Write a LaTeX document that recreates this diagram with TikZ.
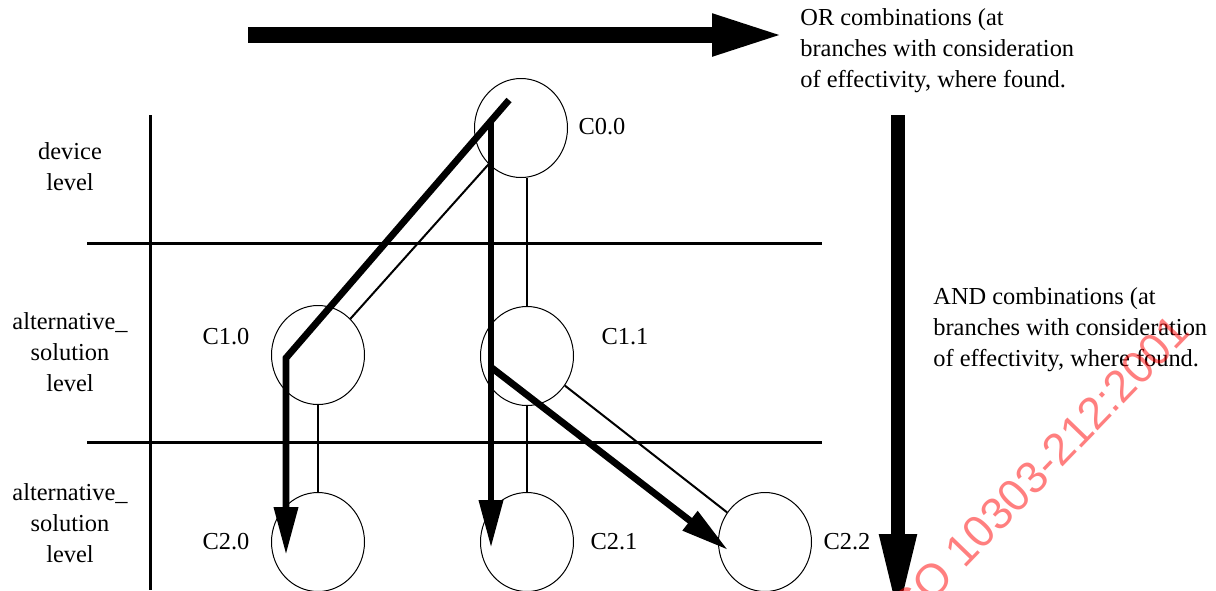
\documentclass[tikz,border=0pt]{standalone}
\usepackage{fontspec}
\setmainfont{Liberation Serif}
\newfontfamily\markfont{Liberation Sans}
\usetikzlibrary{arrows.meta,shapes.geometric}
\tikzset{
	cnode/.style={draw, ellipse, line width=0.5pt, minimum width=46.5pt, minimum height=49.5pt, inner sep=0pt},
	link/.style={line width=1pt},
	route/.style={line width=3.4pt, -{Triangle[length=24pt, width=11.5pt]}},
	levelline/.style={line width=1.5pt},
	lbl/.style={font=\fontsize{12.2}{15.5}\selectfont, inner sep=0pt},
}

\begin{document}
\begin{tikzpicture}[x=0.5pt, y=-0.5pt]
		%%%%% START %%%%%
		\useasboundingbox (0, 0) rectangle (1216, 590);
		\clip (0, 0) rectangle (1216, 590);
		
		% level grid
		\draw[levelline] (150, 115) -- (150, 590);
		\draw[levelline] (87, 243) -- (822, 243);
		\draw[levelline] (87, 442) -- (822, 442);
		
		\node[lbl, align=center] (devlevel) at (70, 167) {device\\level};
		\node[lbl, align=center] (altlevel1) at (70, 352) {alternative\_\\solution\\level};
		\node[lbl, align=center] (altlevel2) at (70, 523) {alternative\_\\solution\\level};
		
		% components
		\node[cnode] (c00) at (521, 128) {};
		\node[cnode] (c10) at (318, 355) {};
		\node[cnode] (c11) at (527, 356) {};
		\node[cnode] (c20) at (318, 542) {};
		\node[cnode] (c21) at (527, 542) {};
		\node[cnode] (c22) at (765, 542) {};
		
		\node[lbl] (c00lbl) at (602, 127) {C0.0};
		\node[lbl] (c10lbl) at (226, 337) {C1.0};
		\node[lbl] (c11lbl) at (625, 337) {C1.1};
		\node[lbl] (c20lbl) at (226, 542) {C2.0};
		\node[lbl] (c21lbl) at (614, 542) {C2.1};
		\node[lbl] (c22lbl) at (847, 542) {C2.2};
		
		% structure
		\draw[link] (c00) -- (c10);
		\draw[link] (c11.north |- c00.south) -- (c11.north);
		\draw[link] (c10) -- (c20);
		\draw[link] (c11) -- (c21);
		\draw[link] (c11) -- (c22);
		
		% combinations
		\coordinate (r1start) at (509, 100);
		\coordinate (r1bend) at (286, 358);
		\coordinate (r1end) at (286, 555);
		\coordinate (r2start) at (491, 121);
		\coordinate (r2end) at (491, 548);
		\coordinate (r3start) at (492, 368);
		\coordinate (r3end) at (728, 550);
		
		\draw[route] (r1start) -- (r1bend) -- (r1end);
		\draw[route] (r2start) -- (r2end);
		\draw[route] (r3start) -- (r3end);
		
		% OR / AND directions
		\coordinate (orstart) at (248, 35);
		\coordinate (orend) at (785, 35);
		\coordinate (andstart) at (898, 115);
		\coordinate (andend) at (898, 620);
		\draw[line width=8pt, -{Triangle[length=36.5pt, width=19pt]}] (orstart) -- (orend);
		\draw[line width=7pt, -{Triangle[length=43pt, width=17pt]}] (andstart) -- (andend);
		
		\node[lbl, align=left, anchor=west] (ortext) at (800, 51) {OR combinations (at\\branches with consideration\\of effectivity, where found.};
		\node[lbl, align=left, anchor=west] (andtext) at (933, 330) {AND combinations (at\\branches with consideration\\of effectivity, where found.};
		
		% watermark
		\node[rotate=46, text=red, opacity=0.5, font=\markfont\fontsize{22.5}{22.5}\selectfont] (mark) at (1036, 473) {ISO 10303-212:2001};
		
		%%%%% END %%%%%
\end{tikzpicture}
\end{document}
